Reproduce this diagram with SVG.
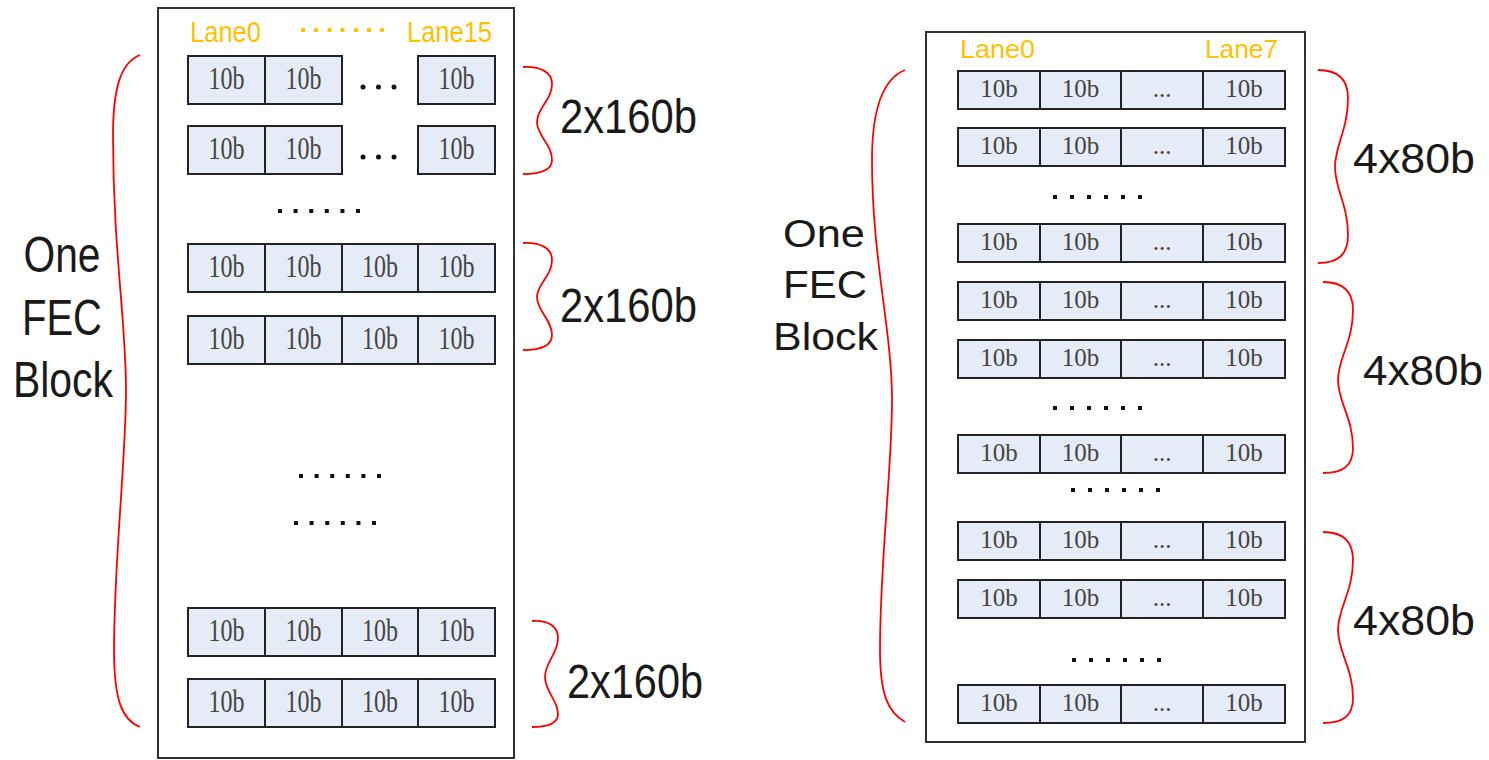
<svg xmlns="http://www.w3.org/2000/svg" width="1489" height="760" viewBox="0 0 1489 760">
<style>
.frame{fill:#fff;stroke:#333;stroke-width:2}
.cell{fill:#e6ecf7;stroke:#222;stroke-width:2}
.t10L{font-family:"Liberation Serif",serif;font-size:32px;fill:#444;text-anchor:middle}
.t10R{font-family:"Liberation Serif",serif;font-size:25px;fill:#444;text-anchor:middle}
.lane{font-family:"Liberation Sans",Arial,sans-serif;fill:#ffc000}
.lbl{font-family:"Liberation Sans",Arial,sans-serif;fill:#1a1a1a}
.brace{fill:none;stroke:#ff0000;stroke-width:1.8}
.dot{fill:#111}
.odot{fill:#ffc000}
</style>
<rect width="1489" height="760" fill="#fff"/>
<defs>
<g id="dots6">
<rect x="-2" y="-2" width="4" height="4"/><rect x="13.6" y="-2" width="4" height="4"/><rect x="29.2" y="-2" width="4" height="4"/><rect x="44.8" y="-2" width="4" height="4"/><rect x="60.4" y="-2" width="4" height="4"/><rect x="76" y="-2" width="4" height="4"/>
</g>
<g id="dots6r">
<rect x="-2" y="-2" width="4" height="4"/><rect x="15" y="-2" width="4" height="4"/><rect x="32" y="-2" width="4" height="4"/><rect x="49" y="-2" width="4" height="4"/><rect x="66" y="-2" width="4" height="4"/><rect x="83" y="-2" width="4" height="4"/>
</g>
<g id="ell3">
<circle cx="0" cy="0" r="2.5"/><circle cx="15.5" cy="0" r="2.5"/><circle cx="31" cy="0" r="2.5"/>
</g>
<g id="rowL4">
<rect class="cell" x="188" y="0" width="77" height="48"/><rect class="cell" x="265" y="0" width="77" height="48"/><rect class="cell" x="342" y="0" width="76" height="48"/><rect class="cell" x="418" y="0" width="77" height="48"/>
<text class="t10L" x="226.5" y="33" textLength="36" lengthAdjust="spacingAndGlyphs">10b</text>
<text class="t10L" x="303.5" y="33" textLength="36" lengthAdjust="spacingAndGlyphs">10b</text>
<text class="t10L" x="380" y="33" textLength="36" lengthAdjust="spacingAndGlyphs">10b</text>
<text class="t10L" x="456.5" y="33" textLength="36" lengthAdjust="spacingAndGlyphs">10b</text>
</g>
<g id="rowL3">
<rect class="cell" x="188" y="0" width="77" height="48"/><rect class="cell" x="265" y="0" width="77" height="48"/><rect class="cell" x="418" y="0" width="77" height="48"/>
<text class="t10L" x="226.5" y="33" textLength="36" lengthAdjust="spacingAndGlyphs">10b</text>
<text class="t10L" x="303.5" y="33" textLength="36" lengthAdjust="spacingAndGlyphs">10b</text>
<text class="t10L" x="456.5" y="33" textLength="36" lengthAdjust="spacingAndGlyphs">10b</text>
<use href="#ell3" x="363" y="31" class="dot"/>
</g>
<g id="rowR">
<rect class="cell" x="958" y="0" width="82" height="38"/><rect class="cell" x="1040" y="0" width="81" height="38"/><rect class="cell" x="1121" y="0" width="82" height="38"/><rect class="cell" x="1203" y="0" width="82" height="38"/>
<text class="t10R" x="999" y="26">10b</text>
<text class="t10R" x="1080.5" y="26">10b</text>
<text class="t10R" x="1162" y="26">...</text>
<text class="t10R" x="1244" y="26">10b</text>
</g>
</defs>

<g id="left-block">
<rect class="frame" x="158" y="8" width="356" height="750"/>
<text class="lane" x="190" y="42" font-size="30" textLength="71" lengthAdjust="spacingAndGlyphs">Lane0</text>
<text class="lane" x="407" y="42" font-size="30" textLength="85" lengthAdjust="spacingAndGlyphs">Lane15</text>
<g class="odot"><circle cx="303" cy="30" r="2.3"/><circle cx="316" cy="30" r="2.3"/><circle cx="329.5" cy="30" r="2.3"/><circle cx="342.5" cy="30" r="2.3"/><circle cx="356" cy="30" r="2.3"/><circle cx="369" cy="30" r="2.3"/><circle cx="382" cy="30" r="2.3"/></g>
<use href="#rowL3" y="56"/>
<use href="#rowL3" y="126"/>
<use href="#dots6" x="280" y="211" class="dot"/>
<use href="#rowL4" y="244"/>
<use href="#rowL4" y="316"/>
<use href="#dots6" x="301" y="476" class="dot"/>
<use href="#dots6" x="296" y="523" class="dot"/>
<use href="#rowL4" y="608"/>
<use href="#rowL4" y="679"/>
</g>

<g id="right-block">
<rect class="frame" x="926" y="32" width="379" height="710"/>
<text class="lane" x="960" y="58" font-size="25" textLength="75" lengthAdjust="spacingAndGlyphs">Lane0</text>
<text class="lane" x="1205" y="58" font-size="25" textLength="73" lengthAdjust="spacingAndGlyphs">Lane7</text>
<use href="#rowR" y="71"/>
<use href="#rowR" y="128"/>
<use href="#dots6r" x="1055" y="197" class="dot"/>
<use href="#rowR" y="224"/>
<use href="#rowR" y="282"/>
<use href="#rowR" y="340"/>
<use href="#dots6r" x="1055" y="408" class="dot"/>
<use href="#rowR" y="435"/>
<use href="#dots6r" x="1073" y="490" class="dot"/>
<use href="#rowR" y="522"/>
<use href="#rowR" y="580"/>
<use href="#dots6r" x="1074" y="660" class="dot"/>
<use href="#rowR" y="685"/>
</g>

<g id="left-labels">
<text class="lbl" x="62" y="272" font-size="50" text-anchor="middle" textLength="77" lengthAdjust="spacingAndGlyphs">One</text>
<text class="lbl" x="62" y="335" font-size="50" text-anchor="middle" textLength="80" lengthAdjust="spacingAndGlyphs">FEC</text>
<text class="lbl" x="63" y="397" font-size="50" text-anchor="middle" textLength="100" lengthAdjust="spacingAndGlyphs">Block</text>
<text class="lbl" x="560" y="133" font-size="49" textLength="137" lengthAdjust="spacingAndGlyphs">2x160b</text>
<text class="lbl" x="560" y="322" font-size="49" textLength="137" lengthAdjust="spacingAndGlyphs">2x160b</text>
<text class="lbl" x="567" y="698" font-size="49" textLength="136" lengthAdjust="spacingAndGlyphs">2x160b</text>
</g>

<g id="right-labels">
<text class="lbl" x="824" y="247" font-size="39" text-anchor="middle" textLength="82" lengthAdjust="spacingAndGlyphs">One</text>
<text class="lbl" x="825" y="298" font-size="39" text-anchor="middle" textLength="84" lengthAdjust="spacingAndGlyphs">FEC</text>
<text class="lbl" x="825.5" y="350" font-size="39" text-anchor="middle" textLength="105" lengthAdjust="spacingAndGlyphs">Block</text>
<text class="lbl" x="1353" y="173" font-size="42" textLength="122" lengthAdjust="spacingAndGlyphs">4x80b</text>
<text class="lbl" x="1363" y="385" font-size="42" textLength="120" lengthAdjust="spacingAndGlyphs">4x80b</text>
<text class="lbl" x="1353" y="635" font-size="42" textLength="122" lengthAdjust="spacingAndGlyphs">4x80b</text>
</g>

<g id="braces">
<path class="brace" d="M140,55 C122,62 113,85 113,135 C113,250 126,320 126,390 C126,460 114,560 114,650 C114,700 122,720 140,727"/>
<path class="brace" d="M523,67 C540,66 552,72 552,84 C552,100 537,108 537,122 C537,136 552,144 552,160 C552,170 540,174 523,174"/>
<path class="brace" d="M523,243 C540,242 552,248 552,260 C552,276 537,284 537,297 C537,311 552,320 552,335 C552,346 540,350 523,350"/>
<path class="brace" d="M532,621 C548,620 558,626 558,638 C558,654 545,662 545,677 C545,692 558,700 558,714 C558,724 548,727 532,727"/>
<path class="brace" d="M905,70 C885,78 872,105 872,160 C872,260 892,330 892,400 C892,470 880,560 880,650 C880,695 888,712 905,722"/>
<path class="brace" d="M1318,70 C1338,70 1348,80 1348,98 C1348,130 1335,145 1335,167 C1335,189 1348,205 1348,235 C1348,255 1338,263 1318,263"/>
<path class="brace" d="M1323,282 C1343,282 1353,292 1353,310 C1353,342 1338,358 1338,380 C1338,402 1353,418 1353,448 C1353,466 1343,473 1323,473"/>
<path class="brace" d="M1323,532 C1343,532 1353,542 1353,560 C1353,592 1338,608 1338,630 C1338,652 1353,668 1353,698 C1353,716 1343,723 1323,723"/>
</g>
</svg>
